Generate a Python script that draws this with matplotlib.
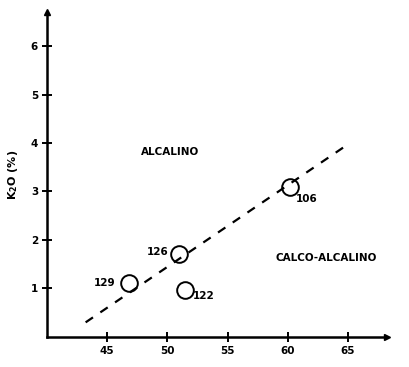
import matplotlib.pyplot as plt

# dados das amostras (SiO2 vs K2O)
amostras = ['129', '126', '122', '106']
sio2 = [46.8, 51.0, 51.5, 60.2]
k2o = [1.12, 1.70, 0.96, 3.10]

# linha divisoria alcalino / calco-alcalino
linha_x = [43.2, 65.0]
linha_y = [0.30, 3.97]

xticks = [45, 50, 55, 60, 65]
yticks = [1, 2, 3, 4, 5, 6]

plt.rcParams['font.family'] = 'DejaVu Sans'
plt.rcParams['font.weight'] = 'bold'

fig = plt.figure(figsize=(4.1, 3.67), dpi=100)
ax = fig.add_axes([0.115, 0.082, 0.83, 0.885])

ax.plot(linha_x, linha_y, color='black', linestyle=(0, (4, 4)), linewidth=1.6)
ax.plot(sio2, k2o, linestyle='none', marker='o', markersize=12,
        markerfacecolor='none', markeredgecolor='black', markeredgewidth=1.4)

# rotulos das amostras
ax.text(sio2[0] - 1.1, k2o[0], amostras[0], ha='right', va='center', fontsize=7.5)
ax.text(sio2[1] - 0.9, k2o[1] + 0.05, amostras[1], ha='right', va='center', fontsize=7.5)
ax.text(sio2[2] + 0.6, k2o[2] - 0.12, amostras[2], ha='left', va='center', fontsize=7.5)
ax.text(sio2[3] + 0.5, k2o[3] - 0.25, amostras[3], ha='left', va='center', fontsize=7.5)

ax.text(50.2, 3.82, 'ALCALINO', ha='center', va='center', fontsize=7.5)
ax.text(63.2, 1.62, 'CALCO-ALCALINO', ha='center', va='center', fontsize=7.5)

ax.set_xlim(40, 68.3)
ax.set_ylim(0, 6.7)
ax.set_xticks(xticks)
ax.set_yticks(yticks)
ax.set_ylabel('K$_2$O (%)', fontsize=8, fontweight='bold', labelpad=8)

for s in ['top', 'right']:
    ax.spines[s].set_visible(False)
for s in ['left', 'bottom']:
    ax.spines[s].set_linewidth(1.8)
ax.tick_params(direction='inout', length=7, width=1.4, labelsize=7.5, pad=3)

# setas nos eixos
ax.plot(1, 0, '>k', markersize=5, transform=ax.transAxes, clip_on=False)
ax.plot(0, 1, '^k', markersize=5, transform=ax.transAxes, clip_on=False)

plt.savefig('out.png', dpi=100)
